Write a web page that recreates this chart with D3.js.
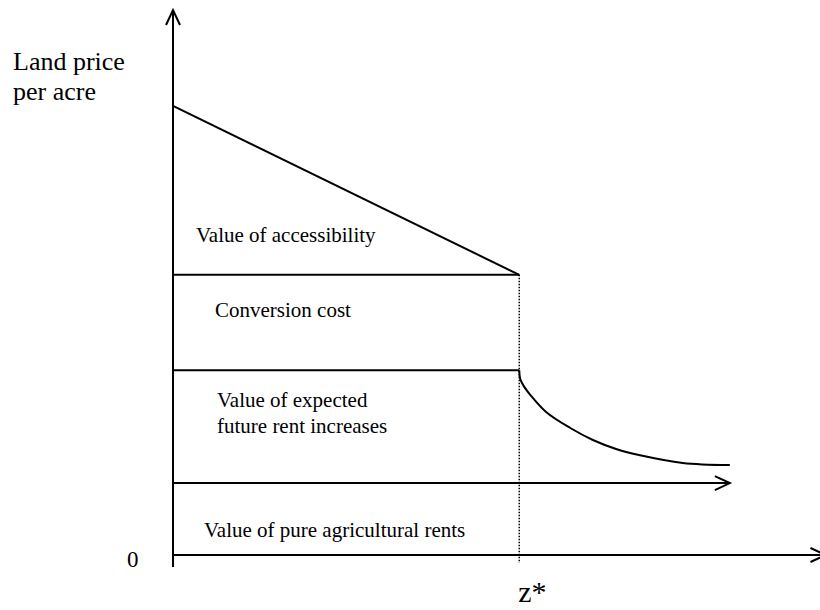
<!DOCTYPE html>
<html lang="en">

<head>
  <meta charset="UTF-8">
  <title>Land price per acre</title>
  <style>
    html,
    body {
      margin: 0;
      padding: 0;
      background: #fff;
    }
  </style>
  <script src="https://cdnjs.cloudflare.com/ajax/libs/d3/7.8.5/d3.min.js"></script>
</head>

<body>
  <svg id="chart"></svg>
  <script>
    //
    // Data (distance z on x, price on y, both in 0..100 units)
    //

    var zStar = 53.6
    var zEnd = 86.2
    var agriRent = 13.2
    var rentLevel = 33.9
    var conversionLevel = 51.4
    var centerPrice = 82.4

    // land price beyond z* (value of agricultural + expected rent increases)
    var curveZ = [53.6, 53.75, 54.4, 55.3, 57.8, 61.5, 65.0, 68.7, 72.3, 78.9, 86.2]
    var curveV = [33.9, 32.3, 30.8, 29.4, 26.2, 23.3, 21.1, 19.4, 18.3, 16.9, 16.5]

    var bandText = [
      ['Value of accessibility'],
      ['Conversion cost'],
      ['Value of expected', 'future rent increases'],
      ['Value of pure agricultural rents']
    ]
    var bandZ = [3.56, 6.5, 6.81, 4.8]
    var bandV = [57.4, 43.7, 27.2, 3.3]

    var yTitle = ['Land price', 'per acre']
    var originLabel = '0'
    var zLabel = 'z*'

    //
    // Setup
    //

    var width = 820
    var height = 610
    var svg = d3.select('#chart').attr('width', width).attr('height', height)

    var x = d3.scaleLinear().domain([0, 100]).range([173, 819])
    var y = d3.scaleLinear().domain([0, 100]).range([555, 10])

    var line = d3.line().x(function (d) { return x(d[0]) }).y(function (d) { return y(d[1]) })

    function stroke(points, w) {
      svg.append('path')
        .attr('d', line(points))
        .attr('fill', 'none')
        .attr('stroke', '#000')
        .attr('stroke-width', w || 2)
    }

    // open chevron arrow head at the end of a segment
    function arrow(px, py, dir) {
      var back = 15, spread = 7
      var p = dir === 'up'
        ? [[px - spread, py + back], [px, py], [px + spread, py + back]]
        : [[px - back, py - spread], [px, py], [px - back, py + spread]]
      svg.append('path')
        .attr('d', d3.line()(p))
        .attr('fill', 'none')
        .attr('stroke', '#000')
        .attr('stroke-width', 2)
    }

    function label(px, py, size, lines, lead) {
      var t = svg.append('text')
        .attr('x', px).attr('y', py)
        .style('font-family', 'Liberation Serif')
        .style('font-size', size + 'px')
        .attr('fill', '#000')
      lines.forEach(function (s, j) {
        t.append('tspan').attr('x', px).attr('dy', j ? lead : 0).text(s)
      })
    }

    //
    // Axes
    //

    svg.append('line')
      .attr('x1', x(0)).attr('x2', x(0))
      .attr('y1', y(0) + 12).attr('y2', y(100))
      .attr('stroke', '#000').attr('stroke-width', 2)
    arrow(x(0), y(100), 'up')

    svg.append('line')
      .attr('x1', x(0)).attr('x2', x(101))
      .attr('y1', y(0)).attr('y2', y(0))
      .attr('stroke', '#000').attr('stroke-width', 2)
    arrow(x(101), y(0), 'right')

    //
    // Bands
    //

    stroke([[0, agriRent], [zEnd, agriRent]])
    arrow(x(zEnd), y(agriRent), 'right')
    stroke([[0, rentLevel], [zStar, rentLevel]])
    stroke([[0, conversionLevel], [zStar, conversionLevel]])
    stroke([[0, centerPrice], [zStar, conversionLevel]])

    // dotted drop at z*
    svg.append('line')
      .attr('x1', x(zStar)).attr('x2', x(zStar))
      .attr('y1', y(conversionLevel)).attr('y2', y(0) + 8)
      .attr('stroke', '#000').attr('stroke-width', 1.5)
      .attr('stroke-dasharray', '1.5,1.5')

    var curve = curveZ.map(function (z, i) { return [z, curveV[i]] })
    svg.append('path')
      .attr('d', d3.line().curve(d3.curveCatmullRom.alpha(0.5))
        .x(function (d) { return x(d[0]) }).y(function (d) { return y(d[1]) })(curve))
      .attr('fill', 'none')
      .attr('stroke', '#000')
      .attr('stroke-width', 2)

    //
    // Text
    //

    bandText.forEach(function (lines, i) {
      label(x(bandZ[i]), y(bandV[i]), 21, lines, 26)
    })

    label(13, 70, 26, yTitle, 30)
    label(x(0) - 46, y(0) + 12, 23, [originLabel], 0)
    label(x(zStar) - 1, 602, 30, [zLabel], 0)
  </script>
</body>

</html>
